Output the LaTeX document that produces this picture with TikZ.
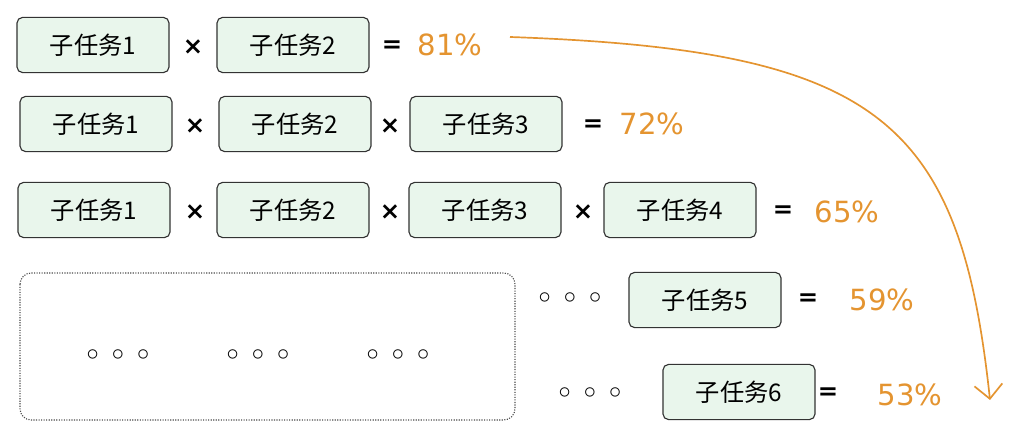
\documentclass[tikz,border=0pt]{standalone}
\usepackage{fontspec}
\setmainfont{DejaVu Sans}
\newfontfamily\cjk{Noto Sans CJK SC}
\usetikzlibrary{arrows.meta}
\definecolor{TaskFill}{RGB}{233, 246, 236}
\definecolor{Pct}{RGB}{228, 148, 48}
\begin{document}
\begin{tikzpicture}[x=0.025cm, y=-0.025cm,
    task/.style={rectangle, rounded corners=4pt, draw=black!80, fill=TaskFill, thick,
                 minimum width=3.8cm, minimum height=1.38cm, font=\cjk\LARGE},
    op/.style={font=\LARGE\bfseries},
    pct/.style={font=\huge, text=Pct},
    dots/.style={font=\LARGE}
]
    \useasboundingbox (0,0) rectangle (1012,438);
    % row 1
    \node[task] (a1) at (93,45) {子任务1};
    \node[op] (x11) at (193,47) {×};
    \node[task] (a2) at (293,45) {子任务2};
    \node[op] (e1) at (392,47) {=};
    \node[pct] (p1) at (450,45) {81\%};
    % row 2
    \node[task] (b1) at (96,124) {子任务1};
    \node[op] (x21) at (195,126) {×};
    \node[task] (b2) at (295,124) {子任务2};
    \node[op] (x22) at (390,126) {×};
    \node[task] (b3) at (486,124) {子任务3};
    \node[op] (e2) at (593,126) {=};
    \node[pct] (p2) at (652,124) {72\%};
    % row 3
    \node[task] (c1) at (94,210) {子任务1};
    \node[op] (x31) at (195,212) {×};
    \node[task] (c2) at (293,210) {子任务2};
    \node[op] (x32) at (390,212) {×};
    \node[task] (c3) at (485,210) {子任务3};
    \node[op] (x33) at (583,212) {×};
    \node[task] (c4) at (680,210) {子任务4};
    \node[op] (e3) at (783,212) {=};
    \node[pct] (p3) at (847,212) {65\%};
    % rows 4 and 5
    \draw[densely dotted, thick, black!70, rounded corners=8pt] (20,273) rectangle (515,420);
    \node[dots] (d1) at (118,355) {$\circ\ \circ\ \circ$};
    \node[dots] (d2) at (258,355) {$\circ\ \circ\ \circ$};
    \node[dots] (d3) at (398,355) {$\circ\ \circ\ \circ$};
    \node[dots] (d4) at (570,298) {$\circ\ \circ\ \circ$};
    \node[task] (t5) at (705,300) {子任务5};
    \node[op] (e4) at (808,300) {=};
    \node[pct] (p4) at (882,300) {59\%};
    \node[dots] (d5) at (590,393) {$\circ\ \circ\ \circ$};
    \node[task] (t6) at (739,392) {子任务6};
    \node[op] (e5) at (828,394) {=};
    \node[pct] (p5) at (910,395) {53\%};
    % trend
    \coordinate (s) at (510,37);
    \coordinate (t) at (990,400);
    \draw[Pct, line width=1.2pt, -{Straight Barb[length=3.5mm]}] (s) .. controls (880,50) and (960,120) .. (t);
\end{tikzpicture}
\end{document}
